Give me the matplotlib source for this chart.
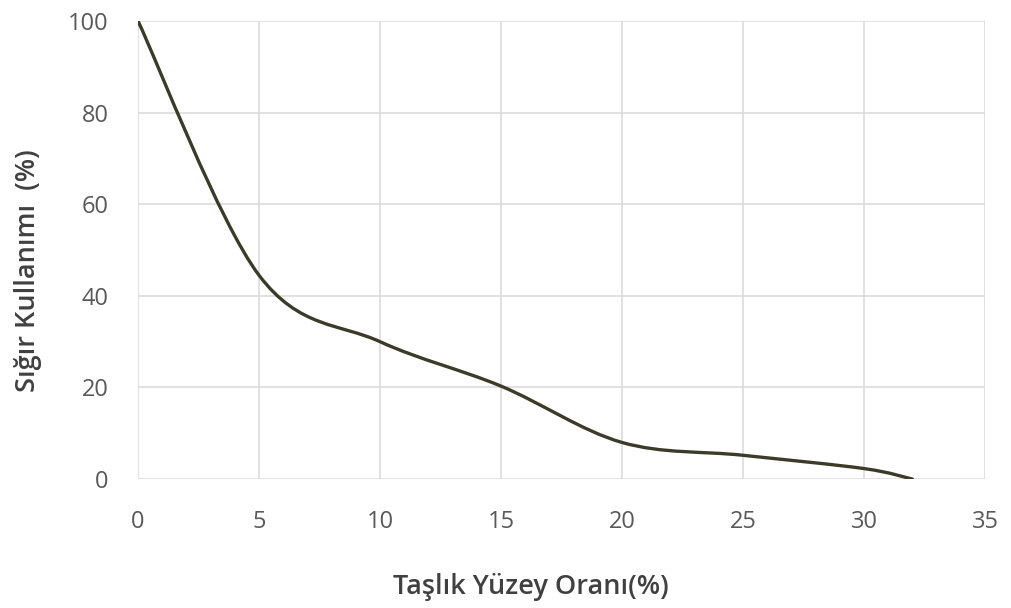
import numpy as np
import matplotlib.pyplot as plt
from matplotlib.path import Path
from matplotlib.patches import PathPatch

# ── Data ───────────────────────────────────────────────────────
tasl_yuzey = [0, 5, 10, 15, 20, 25, 30, 32]
sigir_kull = [100, 44.5, 30.0, 20.3, 8.0, 5.2, 2.3, 0.0]

x_ticks = [0, 5, 10, 15, 20, 25, 30, 35]
y_ticks = [0, 20, 40, 60, 80, 100]

LINE_COL = '#3b3b2a'
GRID_COL = '#d9d9d9'
TICK_COL = '#595959'
LABEL_COL = '#404040'

plt.rcParams['font.family'] = ['Open Sans', 'DejaVu Sans']

fig = plt.figure(figsize=(10.11, 6.08), dpi=100)
ax = fig.add_axes([0.1365, 0.212, 0.8378, 0.7535])

# smoothed line like Excel: cubic Bezier segments (Catmull-Rom control points)
x = np.array(tasl_yuzey, float)
y = np.array(sigir_kull, float)
verts = [(x[0], y[0])]
codes = [Path.MOVETO]
n = len(x)
for i in range(n - 1):
    x0, y0 = (x[i - 1], y[i - 1]) if i > 0 else (x[i], y[i])
    x3, y3 = (x[i + 2], y[i + 2]) if i + 2 < n else (x[i + 1], y[i + 1])
    c1 = (x[i] + (x[i + 1] - x0) / 6, y[i] + (y[i + 1] - y0) / 6)
    c2 = (x[i + 1] - (x3 - x[i]) / 6, y[i + 1] - (y3 - y[i]) / 6)
    verts += [c1, c2, (x[i + 1], y[i + 1])]
    codes += [Path.CURVE4] * 3
ax.add_patch(PathPatch(Path(verts, codes), fill=False,
                       edgecolor=LINE_COL, lw=2.4, capstyle='round', zorder=3))

ax.set_xlim(0, 35)
ax.set_ylim(0, 100)
ax.set_xticks(x_ticks)
ax.set_yticks(y_ticks)
ax.grid(True, color=GRID_COL, lw=1.1)
for s in ax.spines.values():
    s.set_visible(False)
ax.tick_params(length=0, colors=TICK_COL, labelsize=17)
ax.tick_params(axis='x', pad=22)
ax.tick_params(axis='y', pad=21)

ax.set_xlabel('Taşlık Yüzey Oranı(%)', fontsize=19.5, color=LABEL_COL,
              fontweight='semibold')
ax.set_ylabel('Sığır Kullanımı  (%)', fontsize=19.5, color=LABEL_COL,
              fontweight='semibold')
ax.xaxis.set_label_coords(0.464, -0.205)
ax.yaxis.set_label_coords(-0.113, 0.456)

fig.savefig('out.png', dpi=100)
